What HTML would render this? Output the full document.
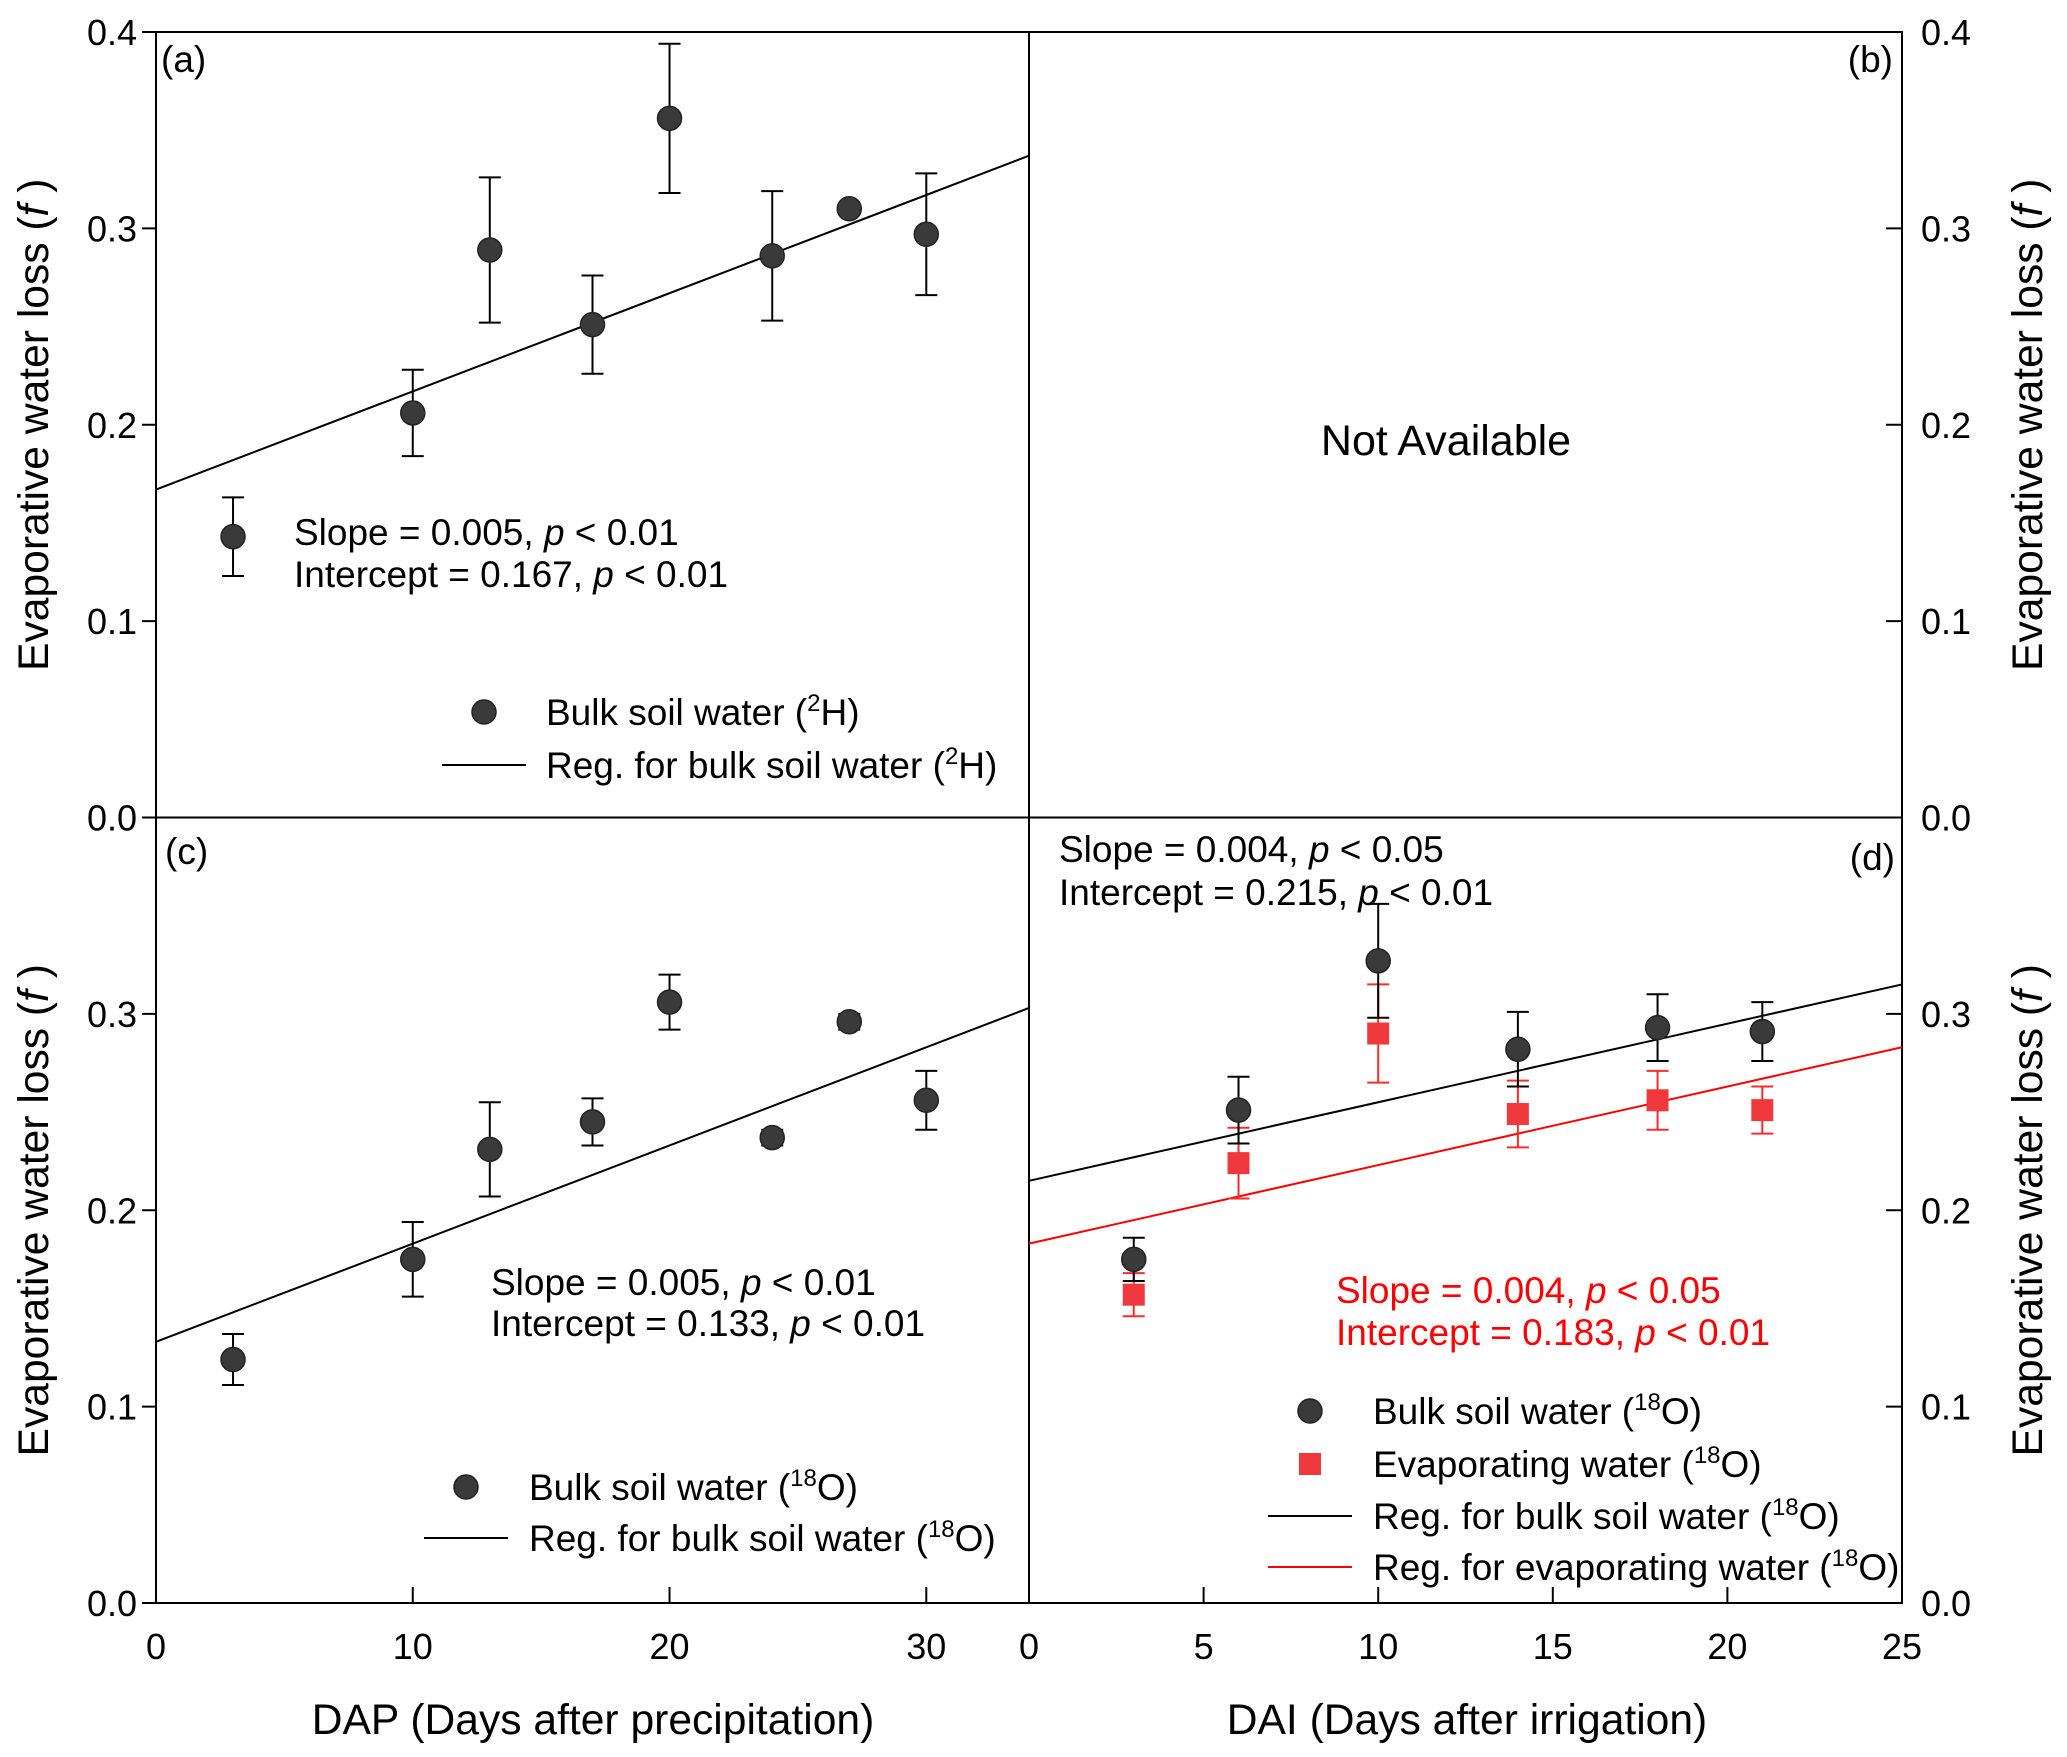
<!DOCTYPE html>
<html><head><meta charset="utf-8"><style>
html,body{margin:0;padding:0;background:#fff;}
svg{display:block;font-family:"Liberation Sans",Arial,sans-serif;}
</style></head><body>
<svg id="c" width="2067" height="1757" viewBox="0 0 2067 1757" xmlns="http://www.w3.org/2000/svg"></svg>
<script>
// Panel (a) 2H, DAP
const aX = [3,10,13,17,20,24,27,30];
const aY = [0.143,0.206,0.289,0.251,0.356,0.286,0.310,0.297];
const aE = [0.020,0.022,0.037,0.025,0.038,0.033,0.003,0.031];
const aReg = [0.167,0.005];
// Panel (c) 18O, DAP
const cX = [3,10,13,17,20,24,27,30];
const cY = [0.124,0.175,0.231,0.245,0.306,0.237,0.296,0.256];
const cE = [0.013,0.019,0.024,0.012,0.014,0.004,0.004,0.015];
const cReg = [0.133,0.005];
// Panel (d) 18O, DAI
const dX = [3,6,10,14,18,21];
const dBulk = [0.175,0.251,0.327,0.282,0.293,0.291];
const dBulkE = [0.011,0.017,0.029,0.019,0.017,0.015];
const dEvap = [0.157,0.224,0.290,0.249,0.256,0.251];
const dEvapE = [0.011,0.018,0.025,0.017,0.015,0.012];
const dRegBulk = [0.215,0.004];
const dRegEvap = [0.183,0.004];
const yTicks = [0.0,0.1,0.2,0.3,0.4];
const xTicksL = [0,10,20,30];
const xTicksR = [0,5,10,15,20,25];

const svg = document.getElementById('c');
const NS = 'http://www.w3.org/2000/svg';
function mk(tag, attrs, parent){const e=document.createElementNS(NS,tag);for(const k in attrs)e.setAttribute(k,attrs[k]);(parent||svg).appendChild(e);return e;}

const L=156, M=1029, R=1902, T=32, MID=817.5, B=1603;
const xl = v => L + v/34*(M-L);
const xr = v => M + v/25*(R-M);
const yu = v => MID - v/0.4*(MID-T);
const yd = v => B - v/0.4*(B-MID);

function txt(x,y,s,opts){
  const t=mk('text',Object.assign({x:x,y:y,'font-size':37,fill:'#000'},opts||{}));
  t.innerHTML=s; return t;
}

let fr = mk('rect',{x:L,y:T,width:R-L,height:B-T,fill:'none',stroke:'#000','stroke-width':2});


let vl = mk('line',{x1:M,y1:T,x2:M,y2:B,stroke:'#000','stroke-width':2});


let hl = mk('line',{x1:L,y1:MID,x2:R,y2:MID,stroke:'#000','stroke-width':2});



const yt = mk('g',{});


yTicks.forEach(v=>{
  [[yu,true],[yd,false]].forEach(p=>{
    const f=p[0];
    mk('line',{x1:L-14,y1:f(v),x2:L,y2:f(v),stroke:'#000','stroke-width':2},yt);
    mk('line',{x1:R-16,y1:f(v),x2:R,y2:f(v),stroke:'#000','stroke-width':2},yt);
    if(!p[1] && v>=0.4) return;
    const lab = v.toFixed(1);
    yt.appendChild(txt(137,f(v)+13,lab,{'text-anchor':'end','font-size':36}));
    yt.appendChild(txt(1921,f(v)+13,lab,{'font-size':36}));
  });
});
const xt = mk('g',{});


xTicksL.forEach(v=>{
  mk('line',{x1:xl(v),y1:B-16,x2:xl(v),y2:B,stroke:'#000','stroke-width':2},xt);
  xt.appendChild(txt(xl(v),1659,String(v),{'text-anchor':'middle','font-size':36}));
});
xTicksR.forEach(v=>{
  mk('line',{x1:xr(v),y1:B-16,x2:xr(v),y2:B,stroke:'#000','stroke-width':2},xt);
  xt.appendChild(txt(xr(v),1659,String(v),{'text-anchor':'middle','font-size':36}));
});

let t;
t=txt(593,1734,'DAP (Days after precipitation)',{'text-anchor':'middle','font-size':42.6});


t=txt(1467,1734,'DAI (Days after irrigation)',{'text-anchor':'middle','font-size':42.6});


const yTitle='Evaporative water loss (<tspan font-style="italic">f</tspan> )';
[[48,424.75,'y-axis-title-upper-left'],[48,1210.25,'y-axis-title-lower-left'],[2042,424.75,'y-axis-title-upper-right'],[2042,1210.25,'y-axis-title-lower-right']].forEach(p=>{
  const e=txt(p[0],p[1],yTitle,{'text-anchor':'middle','font-size':42.6,transform:'rotate(-90 '+p[0]+' '+p[1]+')'});
  
  
});

[[161,72,'(a)','start','panel-label-a'],[1893,72,'(b)','end','panel-label-b'],[165,864,'(c)','start','panel-label-c'],[1895,870,'(d)','end','panel-label-d']].forEach(p=>{
  const e=txt(p[0],p[1],p[2],{'text-anchor':p[3]});
  
  
});
t=txt(1446,455,'Not Available',{'text-anchor':'middle','font-size':43});



function regLine(fx,fy,reg,xmax,color,name){
  const e=mk('line',{x1:fx(0),y1:fy(reg[0]),x2:fx(xmax),y2:fy(reg[0]+reg[1]*xmax),stroke:color,'stroke-width':2});
  
  
}
function points(fx,fy,xs,ys,es,color,shape,name){
  const g=mk('g',{});
  
  
  xs.forEach((x,i)=>{
    const cx=fx(x), top=fy(ys[i]+es[i]), bot=fy(ys[i]-es[i]);
    mk('line',{x1:cx,y1:top,x2:cx,y2:bot,stroke:color,'stroke-width':2},g);
    mk('line',{x1:cx-11,y1:top,x2:cx+11,y2:top,stroke:color,'stroke-width':2},g);
    mk('line',{x1:cx-11,y1:bot,x2:cx+11,y2:bot,stroke:color,'stroke-width':2},g);
    let m;
    if(shape==='c') m=mk('circle',{cx:cx,cy:fy(ys[i]),r:12,fill:'#3a3a3a',stroke:'#222','stroke-width':1.5},g);
    else m=mk('rect',{x:cx-11,y:fy(ys[i])-11,width:22,height:22,fill:'#f0393c'},g);
    
    
  });
}

regLine(xl,yu,aReg,34,'#000','regression-line-a');
points(xl,yu,aX,aY,aE,'#000','c','bulk-soil-water-2h-series');
regLine(xl,yd,cReg,34,'#000','regression-line-c');
points(xl,yd,cX,cY,cE,'#000','c','bulk-soil-water-18o-series-c');
regLine(xr,yd,dRegBulk,25,'#000','regression-line-d-bulk');
regLine(xr,yd,dRegEvap,25,'#ff0000','regression-line-d-evaporating');
points(xr,yd,dX,dEvap,dEvapE,'#ff2a2a','s','evaporating-water-18o-series');
points(xr,yd,dX,dBulk,dBulkE,'#000','c','bulk-soil-water-18o-series-d');

function ann(x,y1,y2,s1,s2,color,name){
  const g=mk('g',{});
  
  
  g.appendChild(txt(x,y1,s1,{fill:color}));
  g.appendChild(txt(x,y2,s2,{fill:color}));
}
ann(294,545,587,'Slope = 0.005, <tspan font-style="italic">p</tspan> &lt; 0.01','Intercept = 0.167, <tspan font-style="italic">p</tspan> &lt; 0.01','#000','stats-annotation-a');
ann(491,1295,1336,'Slope = 0.005, <tspan font-style="italic">p</tspan> &lt; 0.01','Intercept = 0.133, <tspan font-style="italic">p</tspan> &lt; 0.01','#000','stats-annotation-c');
ann(1059,862,905,'Slope = 0.004, <tspan font-style="italic">p</tspan> &lt; 0.05','Intercept = 0.215, <tspan font-style="italic">p</tspan> &lt; 0.01','#000','stats-annotation-d-bulk');
ann(1336,1303,1345,'Slope = 0.004, <tspan font-style="italic">p</tspan> &lt; 0.05','Intercept = 0.183, <tspan font-style="italic">p</tspan> &lt; 0.01','#ff0000','stats-annotation-d-evaporating');

function legend(entries,name){
  const g=mk('g',{});
  
  
  entries.forEach(e=>{
    const it=mk('g',{},g);
    
    
    if(e.k==='c') mk('circle',{cx:e.mx,cy:e.y-13,r:12,fill:'#3a3a3a',stroke:'#222','stroke-width':1.5},it);
    else if(e.k==='s') mk('rect',{x:e.mx-11,y:e.y-24,width:22,height:22,fill:'#f0393c'},it);
    else mk('line',{x1:e.mx-42,y1:e.y-13,x2:e.mx+42,y2:e.y-13,stroke:e.col,'stroke-width':2},it);
    it.appendChild(txt(e.tx,e.y,e.s,{}));
  });
}
const sup2='(<tspan font-size="24" dy="-14">2</tspan><tspan dy="14">H)</tspan>';
const sup18='(<tspan font-size="24" dy="-14">18</tspan><tspan dy="14">O)</tspan>';
legend([{k:'c',mx:484,tx:546,y:725,s:'Bulk soil water '+sup2},{k:'l',col:'#000',mx:484,tx:546,y:778,s:'Reg. for bulk soil water '+sup2}],'legend-a');
legend([{k:'c',mx:466,tx:529,y:1500,s:'Bulk soil water '+sup18},{k:'l',col:'#000',mx:466,tx:529,y:1551,s:'Reg. for bulk soil water '+sup18}],'legend-c');
legend([{k:'c',mx:1310,tx:1373,y:1424,s:'Bulk soil water '+sup18},{k:'s',mx:1310,tx:1373,y:1477,s:'Evaporating water '+sup18},{k:'l',col:'#000',mx:1310,tx:1373,y:1529,s:'Reg. for bulk soil water '+sup18},{k:'l',col:'#ff0000',mx:1310,tx:1373,y:1580,s:'Reg. for evaporating water '+sup18}],'legend-d');
</script>
</body></html>
